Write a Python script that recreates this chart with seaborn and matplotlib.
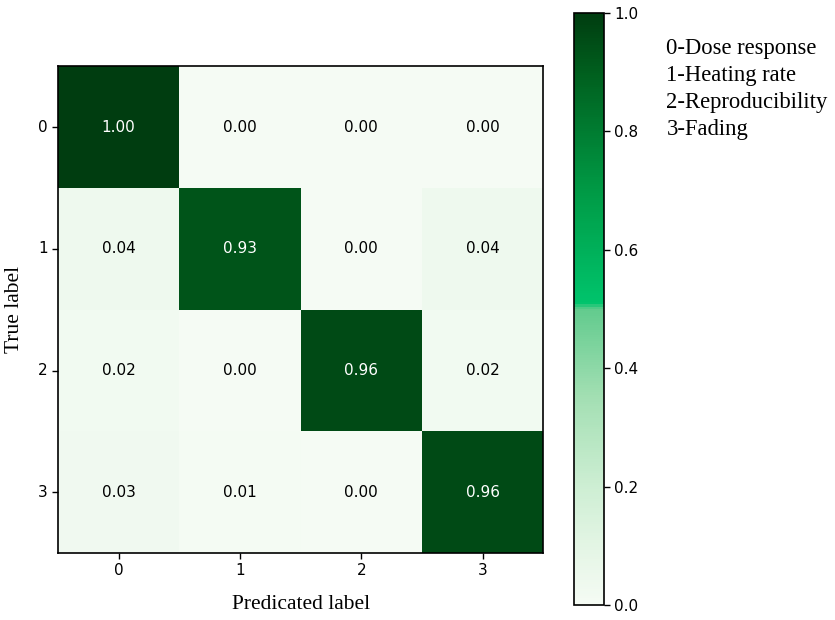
import numpy as np
import pandas as pd
import matplotlib
matplotlib.use('Agg')
import matplotlib.pyplot as plt
import seaborn as sns
from matplotlib.colors import LinearSegmentedColormap

plt.rcParams['font.family'] = ['DejaVu Sans']

# Normalised confusion matrix values
classes = ['0', '1', '2', '3']
legend_lines = ['0-Dose response', '1-Heating rate', '2-Reproducibility', '3-Fading']
row0 = [1.00, 0.00, 0.00, 0.00]
row1 = [0.04, 0.93, 0.00, 0.04]
row2 = [0.02, 0.00, 0.96, 0.02]
row3 = [0.03, 0.01, 0.00, 0.96]

matrix = pd.DataFrame([row0, row1, row2, row3], index=classes, columns=classes)

# Custom green map (light half + brighter dark half like the original)
cmap = LinearSegmentedColormap.from_list('greens_custom', [
    (0.0, '#f5fbf4'),
    (0.1, '#e3f5e4'),
    (0.2, '#cdeed3'),
    (0.35, '#a3dfb3'),
    (0.5, '#62cb8e'),
    (0.51, '#00c46c'),
    (0.7, '#009a45'),
    (0.9, '#005f1e'),
    (1.0, '#003d10'),
])

fig = plt.figure(figsize=(8.35, 6.2), dpi=100)
ax = fig.add_axes([0.0695, 0.108, 0.581, 0.785])
cax = fig.add_axes([0.687, 0.024, 0.036, 0.955])

sns.heatmap(matrix, ax=ax, cbar_ax=cax, cmap=cmap, vmin=0, vmax=1,
            annot=True, fmt='.2f', annot_kws={'size': 11},
            linewidths=0, square=False)

# annotation colours: white on dark cells
for t in ax.texts:
    v = float(t.get_text())
    t.set_color('white' if v > 0.5 else 'black')

for side in ['left', 'right', 'top', 'bottom']:
    ax.spines[side].set_visible(True)
    ax.spines[side].set_linewidth(1.2)
    ax.spines[side].set_color('black')

ax.tick_params(axis='both', labelsize=11, length=4, width=1, rotation=0)
ax.set_xlabel('Predicated label', fontsize=15.5, family='Liberation Serif', labelpad=12)
ax.set_ylabel('True label', fontsize=15.5, family='Liberation Serif', labelpad=10)

cb = ax.collections[0].colorbar
cb.set_ticks([0.0, 0.2, 0.4, 0.6, 0.8, 1.0])
cb.ax.tick_params(labelsize=11, length=4, width=1)
cb.outline.set_visible(True)
cb.outline.set_linewidth(1.2)
cb.outline.set_edgecolor('black')

for i, line in enumerate(legend_lines):
    fig.text(0.798, 0.922 - i * 0.0435, line, fontsize=16.3, family='Liberation Serif',
             ha='left', va='center')

plt.savefig('out.png', dpi=100)
